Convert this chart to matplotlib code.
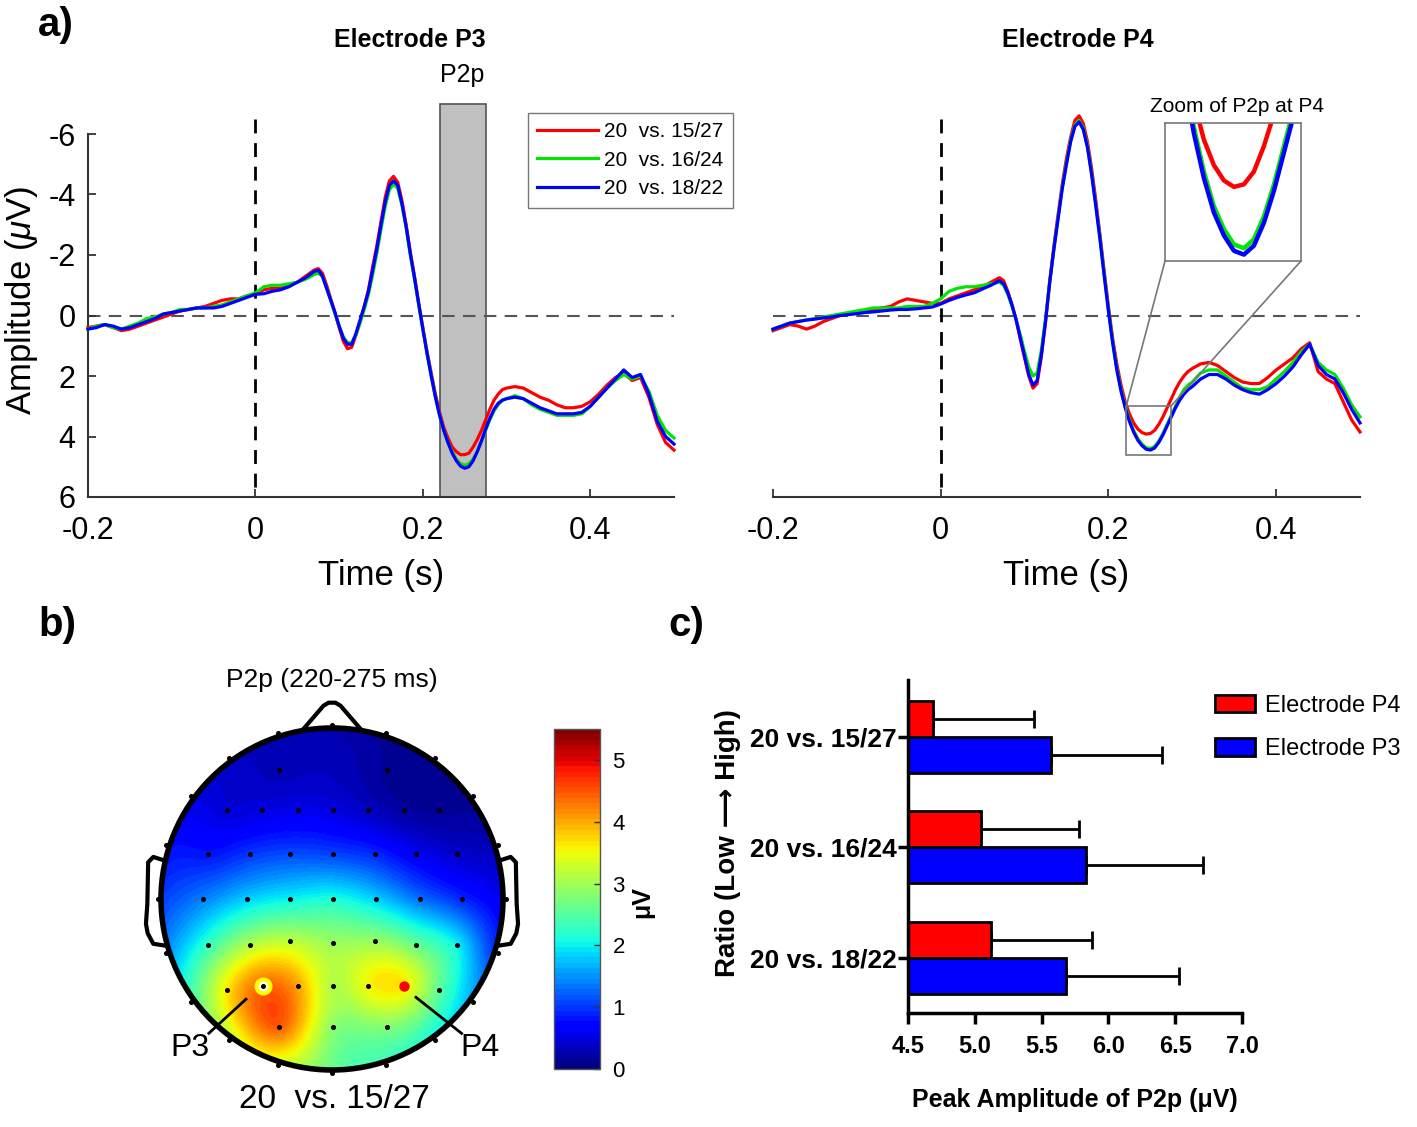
import numpy as np
import matplotlib
matplotlib.use("Agg")
import matplotlib.pyplot as plt
from matplotlib.patches import Rectangle, Circle, Patch, ConnectionPatch
from matplotlib.cm import ScalarMappable
from matplotlib.colors import Normalize

plt.rcParams['font.family'] = ['Liberation Sans', 'DejaVu Sans']
plt.rcParams['axes.unicode_minus'] = False
plt.rcParams['mathtext.fontset'] = 'custom'
plt.rcParams['mathtext.rm'] = 'Liberation Sans'
plt.rcParams['mathtext.it'] = 'Liberation Sans:italic'
plt.rcParams['mathtext.bf'] = 'Liberation Sans:bold'

# ---------------- data ----------------
# sample times (ms): 10 ms steps, 5 ms steps around the main components
t_ms = [-200, -190, -180, -170, -160, -150, -140, -130, -120, -110, -100, -90, -80, -70,
        -60, -50, -40, -30, -20, -10, 0, 10, 20, 30, 40, 50, 60, 70,
        75, 80, 85, 90, 95, 100, 105, 110, 115, 120, 125, 130, 135, 140, 145, 150,
        155, 160, 165, 170, 175, 180, 185, 190, 195, 200, 205, 210, 215, 220, 225,
        230, 235, 240, 245, 250, 255, 260, 265, 270, 275, 280, 285, 290, 295,
        300, 310, 320, 330, 340, 350, 360, 370, 380, 390, 400, 410, 420, 430, 440,
        450, 460, 470, 480, 490, 500]

# Electrode P3 (uV)
p3_1527 = [0.40, 0.35, 0.30, 0.40, 0.50, 0.45, 0.35, 0.25, 0.15, 0.05, -0.05, -0.15, -0.20, -0.25,
           -0.30, -0.40, -0.50, -0.55, -0.55, -0.65, -0.70, -0.85, -0.90, -0.90, -1.00, -1.10, -1.30, -1.50,
           -1.55, -1.40, -1.00, -0.55, -0.10, 0.40, 0.85, 1.10, 1.05, 0.65, 0.20, -0.30, -0.85, -1.60, -2.30,
           -3.10, -3.90, -4.45, -4.60, -4.40, -3.80, -3.00, -2.10, -1.30, -0.40, 0.40, 1.20, 1.90, 2.60, 3.20,
           3.70, 4.05, 4.35, 4.50, 4.60, 4.60, 4.55, 4.35, 4.10, 3.80, 3.45, 3.10, 2.80, 2.60, 2.45,
           2.40, 2.35, 2.40, 2.55, 2.70, 2.80, 2.95, 3.05, 3.05, 3.00, 2.85, 2.60, 2.30, 2.05, 1.90,
           2.15, 2.05, 2.70, 3.60, 4.20, 4.45]
p3_1624 = [0.45, 0.35, 0.30, 0.40, 0.45, 0.35, 0.25, 0.10, 0.05, -0.05, -0.10, -0.20, -0.20, -0.25,
           -0.25, -0.30, -0.35, -0.45, -0.55, -0.65, -0.75, -0.95, -1.00, -1.00, -1.05, -1.10, -1.20, -1.35,
           -1.40, -1.30, -0.90, -0.50, -0.05, 0.35, 0.70, 0.90, 0.90, 0.65, 0.25, -0.20, -0.70, -1.35, -2.05,
           -2.85, -3.60, -4.15, -4.35, -4.20, -3.65, -2.90, -2.00, -1.20, -0.35, 0.45, 1.25, 2.00, 2.70, 3.30,
           3.80, 4.20, 4.50, 4.75, 4.90, 4.95, 4.90, 4.75, 4.50, 4.15, 3.80, 3.45, 3.15, 2.95, 2.80,
           2.75, 2.65, 2.75, 2.95, 3.10, 3.20, 3.30, 3.30, 3.30, 3.25, 3.00, 2.70, 2.40, 2.15, 1.95,
           2.10, 2.00, 2.50, 3.30, 3.80, 4.05]
p3_1822 = [0.45, 0.40, 0.30, 0.35, 0.45, 0.40, 0.30, 0.20, 0.10, -0.05, -0.10, -0.15, -0.20, -0.25,
           -0.25, -0.25, -0.30, -0.40, -0.50, -0.60, -0.70, -0.72, -0.80, -0.85, -0.95, -1.10, -1.25, -1.45,
           -1.50, -1.30, -0.90, -0.50, -0.10, 0.35, 0.75, 0.95, 0.95, 0.60, 0.15, -0.30, -0.80, -1.50, -2.20,
           -3.00, -3.75, -4.30, -4.45, -4.30, -3.70, -2.95, -2.05, -1.25, -0.40, 0.45, 1.25, 2.00, 2.70, 3.30,
           3.80, 4.20, 4.55, 4.80, 4.98, 5.05, 5.00, 4.80, 4.50, 4.15, 3.75, 3.40, 3.10, 2.90, 2.80,
           2.75, 2.70, 2.75, 2.90, 3.05, 3.15, 3.25, 3.25, 3.25, 3.20, 3.00, 2.70, 2.40, 2.10, 1.80,
           2.05, 1.95, 2.60, 3.50, 4.00, 4.25]

# Electrode P4 (uV)
p4_1527 = [0.50, 0.40, 0.30, 0.35, 0.45, 0.35, 0.20, 0.10, 0.00, -0.05, -0.10, -0.15, -0.20, -0.25,
           -0.30, -0.45, -0.55, -0.50, -0.45, -0.40, -0.40, -0.55, -0.65, -0.75, -0.85, -0.95, -1.10, -1.25,
           -1.15, -0.80, -0.35, 0.15, 0.80, 1.40, 2.00, 2.40, 2.25, 1.35, 0.20, -1.15, -2.30, -3.35, -4.35,
           -5.20, -5.90, -6.45, -6.60, -6.35, -5.75, -4.85, -3.80, -2.65, -1.45, -0.30, 0.75, 1.60, 2.30, 2.85,
           3.25, 3.55, 3.75, 3.87, 3.92, 3.90, 3.80, 3.60, 3.35, 3.05, 2.75, 2.45, 2.20, 2.00, 1.85,
           1.75, 1.60, 1.55, 1.65, 1.85, 2.05, 2.20, 2.25, 2.25, 2.05, 1.80, 1.60, 1.40, 1.10, 0.90,
           1.85, 2.10, 2.25, 2.85, 3.45, 3.85]
p4_1624 = [0.45, 0.35, 0.25, 0.20, 0.15, 0.10, 0.05, 0.00, -0.05, -0.10, -0.15, -0.20, -0.25, -0.25,
           -0.25, -0.25, -0.30, -0.30, -0.30, -0.40, -0.55, -0.80, -0.90, -0.95, -0.95, -1.00, -1.05, -1.10,
           -1.00, -0.70, -0.30, 0.15, 0.65, 1.20, 1.70, 2.00, 1.90, 1.15, 0.10, -1.10, -2.20, -3.25, -4.25,
           -5.05, -5.80, -6.30, -6.45, -6.20, -5.60, -4.70, -3.65, -2.55, -1.35, -0.20, 0.85, 1.75, 2.45, 3.00,
           3.45, 3.80, 4.07, 4.25, 4.37, 4.40, 4.33, 4.15, 3.90, 3.60, 3.30, 3.00, 2.70, 2.45, 2.30,
           2.20, 1.90, 1.80, 1.80, 2.00, 2.20, 2.40, 2.45, 2.45, 2.35, 2.10, 1.85, 1.55, 1.20, 0.95,
           1.55, 1.80, 1.95, 2.40, 2.95, 3.35]
p4_1822 = [0.45, 0.35, 0.25, 0.20, 0.15, 0.12, 0.08, 0.05, 0.00, -0.03, -0.06, -0.10, -0.12, -0.15,
           -0.18, -0.20, -0.20, -0.22, -0.25, -0.28, -0.38, -0.50, -0.60, -0.68, -0.75, -0.88, -1.00, -1.15,
           -1.05, -0.75, -0.35, 0.15, 0.75, 1.35, 1.95, 2.30, 2.15, 1.30, 0.20, -1.10, -2.20, -3.20, -4.20,
           -5.00, -5.75, -6.25, -6.40, -6.15, -5.55, -4.65, -3.60, -2.50, -1.30, -0.15, 0.90, 1.80, 2.50, 3.05,
           3.50, 3.85, 4.12, 4.30, 4.42, 4.45, 4.38, 4.20, 3.95, 3.65, 3.35, 3.05, 2.80, 2.60, 2.45,
           2.35, 2.10, 1.95, 1.95, 2.10, 2.30, 2.45, 2.55, 2.60, 2.45, 2.25, 2.00, 1.70, 1.30, 0.95,
           1.65, 1.95, 2.10, 2.55, 3.10, 3.55]

cond_labels = ['20  vs. 15/27', '20  vs. 16/24', '20  vs. 18/22']
cond_colors = ['#ff0000', '#00e600', '#0000ff']

# topography electrodes (unit head radius) and P2p amplitudes (uV)
elec_u = [-0.312, 0.322,
          -0.615, -0.41, -0.201, 0.006, 0.211, 0.42, 0.625,
          -0.723, -0.479, -0.244, 0.006, 0.254, 0.49, 0.732,
          -0.752, -0.498, -0.244, 0.006, 0.258, 0.512, 0.762,
          -0.723, -0.479, -0.244, 0.006, 0.254, 0.49, 0.732,
          -0.615, -0.406, -0.201, 0.006, 0.211, 0.42, 0.625,
          -0.312, 0.006, 0.322]
elec_v = [0.754, 0.754,
          0.52, 0.52, 0.52, 0.52, 0.52, 0.52, 0.52,
          0.266, 0.266, 0.266, 0.266, 0.266, 0.266, 0.266,
          0.002, 0.002, 0.002, 0.002, 0.002, 0.002, 0.002,
          -0.27, -0.27, -0.245, -0.26, -0.245, -0.27, -0.27,
          -0.535, -0.506, -0.506, -0.506, -0.506, -0.506, -0.535,
          -0.75, -0.75, -0.75]
elec_amp = [0.3, 0.15,
            0.45, 0.5, 0.55, 0.5, 0.35, 0.2, 0.15,
            0.8, 1.0, 1.1, 1.05, 0.9, 0.6, 0.4,
            1.4, 1.8, 2.0, 2.1, 1.8, 1.3, 0.9,
            2.3, 3.1, 3.15, 2.95, 2.9, 2.6, 2.0,
            3.65, 4.35, 4.0, 3.1, 3.55, 3.6, 2.55,
            4.45, 2.85, 2.8]
rim_deg = [90, 108, 126, 144, 162, 180, 198, 216, 234, 252,
           270, 288, 306, 324, 342, 0, 18, 36, 54, 72]
rim_amp = [0.2, 0.25, 0.35, 0.5, 0.75, 1.0, 1.5, 2.4, 3.2, 3.35,
           2.6, 2.35, 2.05, 1.6, 0.9, 0.55, 0.3, 0.12, 0.1, 0.12]
p3_idx, p4_idx = 31, 35

# peak amplitude of P2p (bar chart)
ratio_labels = ['20 vs. 15/27', '20 vs. 16/24', '20 vs. 18/22']
p4_peak = [4.69, 5.05, 5.12]
p4_err = [0.75, 0.73, 0.76]
p3_peak = [5.57, 5.83, 5.68]
p3_err = [0.83, 0.88, 0.85]

# ---------------- figure ----------------
W, H = 1417, 1127
fig = plt.figure(figsize=(W / 100, H / 100), dpi=100)


def box(x0, y0, x1, y1):
    # pixel box (top-left origin) -> figure rect
    return [x0 / W, 1 - y1 / H, (x1 - x0) / W, (y1 - y0) / H]


t = np.array(t_ms) / 1000.0
axL = fig.add_axes(box(88, 134, 674, 497))
axR = fig.add_axes(box(773, 134, 1360, 497))

for ax, series in [(axL, [p3_1527, p3_1624, p3_1822]), (axR, [p4_1527, p4_1624, p4_1822])]:
    ax.axhline(0, color='#555555', lw=1.5, ls=(0, (6, 4)), zorder=1)
    ax.plot([0, 0], [-6.5, 6], color='black', lw=2, ls=(0, (5, 3.5)), clip_on=False, zorder=1)
    for y, c, lab in zip(series, cond_colors, cond_labels):
        ax.plot(t, y, color=c, lw=2.3, label=lab, zorder=3, clip_on=False)
    ax.set_xlim(-0.2, 0.5)
    ax.set_ylim(6, -6)
    ax.set_xticks([-0.2, 0, 0.2, 0.4])
    ax.set_xticklabels(['-0.2', '0', '0.2', '0.4'])
    ax.spines['top'].set_visible(False)
    ax.spines['right'].set_visible(False)
    for s in ['left', 'bottom']:
        ax.spines[s].set_color('#333333')
        ax.spines[s].set_linewidth(1.5)
    ax.tick_params(direction='in', length=6, width=1.3, labelsize=22, colors='#333333',
                   labelcolor='black')
    ax.tick_params(axis='x', pad=14)
    ax.tick_params(axis='y', pad=9)
    ax.patch.set_alpha(0)

axL.set_yticks([-6, -4, -2, 0, 2, 4, 6])
axL.set_yticklabels(['-6', '-4', '-2', '0', '2', '4', '6'])
axR.spines['left'].set_visible(False)
axR.set_yticks([])

# P2p window
axL.add_patch(Rectangle((0.22, -7.0), 0.055, 13.0, facecolor='#c0c0c0', edgecolor='#555555',
                        lw=1.2, clip_on=False, zorder=0.5))
axL.text(0.2475, -7.95, 'P2p', ha='center', va='center', fontsize=18)

leg = axL.legend(loc='upper left', bbox_to_anchor=(528 / W, 1 - 113 / H),
                 bbox_transform=fig.transFigure, fontsize=15, frameon=True, fancybox=False,
                 edgecolor='#555555', handlelength=2.9, handletextpad=0.3, labelspacing=0.45,
                 borderpad=0.45, borderaxespad=0)
leg.get_frame().set_linewidth(1.0)

fig.text(410 / W, 1 - 40 / H, 'Electrode P3', ha='center', va='center', fontsize=18, weight='bold')
fig.text(1078 / W, 1 - 40 / H, 'Electrode P4', ha='center', va='center', fontsize=18, weight='bold')
fig.text(381 / W, 1 - 575 / H, 'Time (s)', ha='center', va='center', fontsize=25)
fig.text(1066 / W, 1 - 575 / H, 'Time (s)', ha='center', va='center', fontsize=25)
fig.text(22 / W, 1 - 300 / H, r'Amplitude ($\mu$V)', ha='center', va='center', fontsize=25,
         rotation=90)

# zoom inset on the P4 P2p trough
zx0, zx1, zy0, zy1 = 0.2214, 0.275, 2.98, 4.6
axR.add_patch(Rectangle((zx0, zy0), zx1 - zx0, zy1 - zy0, fill=False, edgecolor='#777777',
                        lw=1.2, zorder=4))
axin = fig.add_axes(box(1165, 123, 1301, 261))
for y, c in zip([p4_1527, p4_1624, p4_1822], cond_colors):
    axin.plot(t, y, color=c, lw=3.2)
axin.set_xlim(0.2106, 0.2785)
axin.set_ylim(4.5, 3.42)
axin.set_xticks([])
axin.set_yticks([])
for s in axin.spines.values():
    s.set_color('#777777')
    s.set_linewidth(1.2)
for (xa, xb) in [(zx0, 0), (zx1, 1)]:
    con = ConnectionPatch(xyA=(xa, zy0), coordsA='data', axesA=axR,
                          xyB=(xb, 0), coordsB='axes fraction', axesB=axin,
                          color='#777777', lw=1.2)
    fig.add_artist(con)
fig.text(1237 / W, 1 - 106 / H, 'Zoom of P2p at P4', ha='center', va='center', fontsize=15)

# ---------------- b) topography ----------------
cmap = plt.get_cmap('jet', 64)
hc_x, hc_y, hr = 332, 899, 171
half = 1.3 * hr
axh = fig.add_axes(box(hc_x - half, hc_y - half, hc_x + half, hc_y + half))
axh.set_xlim(-1.3, 1.3)
axh.set_ylim(-1.3, 1.3)
axh.set_aspect('equal')
axh.axis('off')

rim_r = 1.02
rim_u = rim_r * np.cos(np.deg2rad(rim_deg))
rim_v = rim_r * np.sin(np.deg2rad(rim_deg))
all_u = np.concatenate([elec_u, rim_u])
all_v = np.concatenate([elec_v, rim_v])
all_a = np.concatenate([elec_amp, rim_amp])


def green(d):
    # biharmonic spline kernel (as in griddata 'v4', used by topoplot)
    g = np.zeros_like(d)
    nz = d > 0
    g[nz] = d[nz] ** 2 * (np.log(d[nz]) - 1)
    return g


dd = np.hypot(all_u[:, None] - all_u[None, :], all_v[:, None] - all_v[None, :])
wts = np.linalg.solve(green(dd), all_a)
gx, gy = np.meshgrid(np.linspace(-1.02, 1.02, 300), np.linspace(-1.02, 1.02, 300))
dg = np.hypot(gx.ravel()[:, None] - all_u[None, :], gy.ravel()[:, None] - all_v[None, :])
topo = (green(dg) @ wts).reshape(gx.shape)
im = axh.imshow(topo, extent=(-1.02, 1.02, -1.02, 1.02), origin='lower', cmap=cmap,
                vmin=0, vmax=5.5, interpolation='bilinear', zorder=1)
im.set_clip_path(Circle((0, 0), 1.0, transform=axh.transData))

axh.add_patch(Circle((0, 0), 1.0, fill=False, edgecolor='black', lw=4, zorder=3))
axh.plot([-0.175, -0.05, -0.02, 0.02, 0.05, 0.175], [0.985, 1.13, 1.148, 1.148, 1.13, 0.985],
         color='black', lw=3, solid_joinstyle='round', zorder=3)
ear_u = np.array([-0.986, -1.045, -1.075, -1.08, -1.088, -1.078, -1.045, -0.986])
ear_v = np.array([0.227, 0.246, 0.215, -0.03, -0.145, -0.2, -0.262, -0.271])
axh.plot(ear_u, ear_v, color='black', lw=3, solid_joinstyle='round', zorder=3)
axh.plot(-ear_u, ear_v, color='black', lw=3, solid_joinstyle='round', zorder=3)

axh.plot(elec_u, elec_v, 'o', color='black', ms=2.6, zorder=5)
axh.plot(rim_u, rim_v, 'o', color='black', ms=2.6, zorder=5)
axh.plot(elec_u[p3_idx], elec_v[p3_idx], 'o', ms=10, mfc='white', mec='#ffff00', mew=3, zorder=6)
axh.plot(elec_u[p3_idx], elec_v[p3_idx], 'o', color='black', ms=2.6, zorder=7)
axh.plot(elec_u[p4_idx], elec_v[p4_idx], 'o', color='#ff0000', ms=6.5, zorder=6)

axh.plot([-0.72, -0.503], [-0.785, -0.586], color='black', lw=2, zorder=6)
axh.plot([0.491, 0.758], [-0.575, -0.786], color='black', lw=2, zorder=6)
axh.text(-0.83, -0.871, 'P3', ha='center', va='center', fontsize=23, zorder=7)
axh.text(0.865, -0.871, 'P4', ha='center', va='center', fontsize=23, zorder=7)

fig.text(332 / W, 1 - 680 / H, 'P2p (220-275 ms)', ha='center', va='center', fontsize=19)
fig.text(334 / W, 1 - 1100 / H, '20  vs. 15/27', ha='center', va='center', fontsize=24)

axcb = fig.add_axes(box(554, 729, 600, 1069))
cb = fig.colorbar(ScalarMappable(norm=Normalize(0, 5.5), cmap=cmap), cax=axcb,
                  ticks=[0, 1, 2, 3, 4, 5])
cb.ax.tick_params(direction='in', length=4, width=1, labelsize=16, pad=9, color='#333333')
cb.outline.set_edgecolor('#555555')
cb.outline.set_linewidth(1.0)
fig.text(642 / W, 1 - 902 / H, 'μV', rotation=90, ha='center', va='center', fontsize=18,
         weight='bold')

# ---------------- c) bar chart ----------------
axc = fig.add_axes(box(908, 680, 1242, 1013))
pos = np.arange(len(ratio_labels))
bh = 0.326
axc.barh(pos - bh / 2, np.array(p4_peak) - 4.5, left=4.5, height=bh, color='#ff0000',
         edgecolor='black', lw=2, zorder=2)
axc.barh(pos + bh / 2, np.array(p3_peak) - 4.5, left=4.5, height=bh, color='#0000ff',
         edgecolor='black', lw=2, zorder=2)
axc.errorbar(p4_peak, pos - bh / 2, xerr=[np.zeros(3), p4_err], fmt='none', ecolor='black',
             elinewidth=2, capsize=6.5, capthick=2, zorder=1)
axc.errorbar(p3_peak, pos + bh / 2, xerr=[np.zeros(3), p3_err], fmt='none', ecolor='black',
             elinewidth=2, capsize=6.5, capthick=2, zorder=1)
axc.set_xlim(4.5, 7.0)
axc.set_ylim(2.5, -0.516)
axc.set_xticks([4.5, 5.0, 5.5, 6.0, 6.5, 7.0])
axc.set_xticklabels(['4.5', '5.0', '5.5', '6.0', '6.5', '7.0'], fontsize=17, weight='bold')
axc.set_yticks(pos)
axc.set_yticklabels(ratio_labels, fontsize=19, weight='bold')
axc.spines['top'].set_visible(False)
axc.spines['right'].set_visible(False)
for s in ['left', 'bottom']:
    axc.spines[s].set_linewidth(2.5)
axc.tick_params(axis='x', direction='out', length=8, width=2.5, pad=8)
axc.tick_params(axis='y', direction='out', length=7, width=2.5, pad=1)
axc.patch.set_alpha(0)

fig.text(1075 / W, 1 - 1100 / H, 'Peak Amplitude of P2p (μV)', ha='center', va='center',
         fontsize=18, weight='bold')
fig.text(728 / W, 1 - 843 / H, 'Ratio (Low ⟶ High)', ha='center', va='center', fontsize=20,
         weight='bold', rotation=90)

handles = [Patch(facecolor='#ff0000', edgecolor='black', lw=2),
           Patch(facecolor='#0000ff', edgecolor='black', lw=2)]
fig.legend(handles, ['Electrode P4', 'Electrode P3'], loc='upper left',
           bbox_to_anchor=(1215 / W, 1 - 695 / H), frameon=False, fontsize=17,
           handlelength=1.7, handleheight=0.75, handletextpad=0.4, labelspacing=0.9,
           borderpad=0, borderaxespad=0)

# panel letters
fig.text(38 / W, 1 - 25 / H, 'a)', ha='left', va='center', fontsize=29, weight='bold')
fig.text(38 / W, 1 - 625 / H, 'b)', ha='left', va='center', fontsize=29, weight='bold')
fig.text(668 / W, 1 - 625 / H, 'c)', ha='left', va='center', fontsize=29, weight='bold')

fig.savefig('out.png', dpi=100)
